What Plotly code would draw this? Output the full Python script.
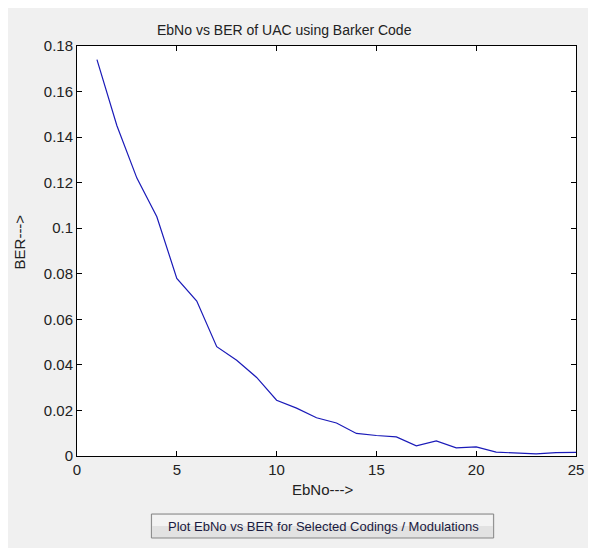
import plotly.graph_objects as go

# ---- data ----
ebno = [1, 2, 3, 4, 5, 6, 7, 8, 9, 10, 11, 12, 13, 14, 15, 16, 17, 18, 19, 20, 21, 22, 23, 24, 25]
ber = [0.174, 0.145, 0.122, 0.105, 0.078, 0.068, 0.048, 0.042, 0.0345, 0.0245,
       0.021, 0.0168, 0.0145, 0.0099, 0.009, 0.0084, 0.0045, 0.0066, 0.0036, 0.0040,
       0.0017, 0.0014, 0.0009, 0.0015, 0.0016]
x_ticks = [0, 5, 10, 15, 20, 25]
x_tick_labels = ["0", "5", "10", "15", "20", "25"]
y_ticks = [0, 0.02, 0.04, 0.06, 0.08, 0.1, 0.12, 0.14, 0.16, 0.18]
y_tick_labels = ["0", "0.02", "0.04", "0.06", "0.08", "0.1", "0.12", "0.14", "0.16", "0.18"]

title_text = "EbNo vs BER of UAC using Barker Code"
x_title = "EbNo--->"
y_title = "BER--->"
button_text = "Plot EbNo vs BER for Selected Codings / Modulations"

# page body has an 8px margin, so figure coordinates = screen coordinates - 8
OFF = 8
W, H = 596 - OFF, 548 - OFF
ML = 77 - OFF
MT = 46 - OFF
MR = 596 - 580
MB = 548 - 456
PW = W - ML - MR
PH = H - MT - MB


def px2x(px):
    return (px - OFF - ML) / PW


def py2y(py):
    return (H - MB - (py - OFF)) / PH


FONT = "Liberation Sans, Arial, sans-serif"

fig = go.Figure()
fig.add_trace(go.Scatter(x=ebno, y=ber, mode="lines",
                         line=dict(color="#1a1ab8", width=1.2),
                         showlegend=False, hoverinfo="skip"))

axis_common = dict(
    showgrid=False, zeroline=False, showline=True, linecolor="#000000", linewidth=1,
    mirror="ticks", ticks="inside", ticklen=5, tickcolor="#000000", tickwidth=1,
    tickfont=dict(family=FONT, size=15, color="#222222"),
)

fig.update_xaxes(range=[0, 25], tickvals=x_ticks, ticktext=x_tick_labels, **axis_common)
fig.update_yaxes(range=[0, 0.18], tickvals=y_ticks, ticktext=y_tick_labels, **axis_common)

shapes = [
    # button
    dict(type="rect", xref="paper", yref="paper", x0=px2x(152), x1=px2x(497),
         y0=py2y(538), y1=py2y(514), fillcolor="#e2e2e2",
         line=dict(color="#858585", width=1), layer="above"),
    dict(type="rect", xref="paper", yref="paper", x0=px2x(153), x1=px2x(496),
         y0=py2y(526), y1=py2y(515), fillcolor="#f3f3f3",
         line=dict(width=0), layer="above"),
]

annotations = [
    dict(text=title_text, xref="paper", yref="paper", x=px2x(286), y=py2y(30),
         showarrow=False, xanchor="center", yanchor="middle",
         font=dict(family=FONT, size=14, color="#222222")),
    dict(text=x_title, xref="paper", yref="paper", x=px2x(325), y=py2y(489),
         showarrow=False, xanchor="center", yanchor="middle",
         font=dict(family=FONT, size=15, color="#222222")),
    dict(text=y_title, xref="paper", yref="paper", x=px2x(19), y=py2y(242),
         showarrow=False, xanchor="center", yanchor="middle", textangle=-90,
         font=dict(family=FONT, size=15, color="#222222")),
    dict(text=button_text, xref="paper", yref="paper", x=px2x(325), y=py2y(526),
         showarrow=False, xanchor="center", yanchor="middle",
         font=dict(family=FONT, size=13, color="#1a1a40")),
]

fig.update_layout(
    width=W, height=H,
    margin=dict(l=ML, r=MR, t=MT, b=MB, pad=0),
    paper_bgcolor="#f0f0f0", plot_bgcolor="#ffffff",
    shapes=shapes, annotations=annotations,
    showlegend=False,
)

fig.write_html("out.html")
